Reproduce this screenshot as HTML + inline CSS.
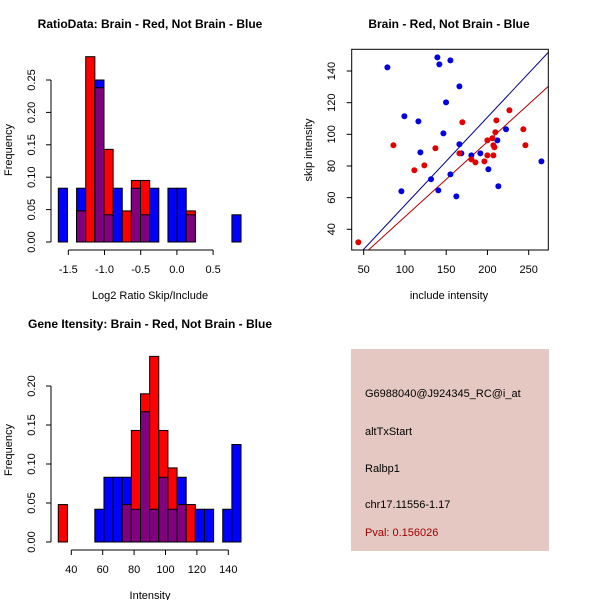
<!DOCTYPE html>
<html><head><meta charset="utf-8"><style>
body{margin:0;background:#fff}
svg{display:block;font-family:"Liberation Sans",sans-serif}
.t{font-weight:bold;font-size:12px}
.k{font-size:11px}
</style></head><body>
<svg id="s" width="600" height="600" viewBox="0 0 600 600">
<rect x="351" y="349" width="198" height="202" fill="#e4c8c1"/>
<g font-size="11">
<text x="365" y="397">G6988040@J924345_RC@i_at</text>
<text x="365" y="435">altTxStart</text>
<text x="365" y="472">Ralbp1</text>
<text x="365" y="508">chr17.11556-1.17</text>
<text x="365" y="536" fill="#a00000">Pval: 0.156026</text>
</g>
</svg>
<script>
// ---- Histogram 1 data ----
const h1Start=-1.638, h1Width=0.1262;
const h1BinIdx=[0,2,3,4,5,6,7,8,9,10,12,13,14,19];
const h1Red=[0,0.048,0.286,0.238,0.143,0,0.048,0.095,0.095,0,0,0,0.048,0];
const h1Blue=[0.083,0.083,0,0.25,0.042,0.083,0,0.083,0.042,0.083,0.083,0.083,0.042,0.042];
const h1XTicks=[-1.5,-1.0,-0.5,0.0,0.5];
const h1XLabels=["-1.5","-1.0","-0.5","0.0","0.5"];
const h1YTicks=[0,0.05,0.10,0.15,0.20,0.25];
const h1YLabels=["0.00","0.05","0.10","0.15","0.20","0.25"];
// ---- Histogram 2 data ----
const h2Start=31.7, h2Width=5.82;
const h2BinIdx=[0,4,5,6,7,8,9,10,11,12,13,14,15,16,18,19];
const h2Red=[0.048,0,0,0,0.048,0.143,0.19,0.238,0.143,0.095,0.048,0.048,0,0,0,0];
const h2Blue=[0,0.042,0.083,0.083,0.083,0.042,0.167,0.042,0.083,0.042,0.083,0,0.042,0.042,0.042,0.125];
const h2XTicks=[40,60,80,100,120,140];
const h2XLabels=["40","60","80","100","120","140"];
const h2YTicks=[0,0.05,0.10,0.15,0.20];
const h2YLabels=["0.00","0.05","0.10","0.15","0.20"];
// ---- Scatter data ----
const blueX=[78.7,139.3,141.7,155.1,166.0,149.8,99.3,116.3,146.6,166.0,118.7,168.4,180.5,191.4,212.0,222.5,131.6,95.7,140.5,155.1,162.3,201.1,213.2,265.4];
const blueY=[142.3,148.6,144.2,146.7,130.3,120.2,111.4,108.2,100.6,93.7,88.6,88.0,86.7,88.0,96.2,103.2,71.6,64.0,64.6,74.7,60.8,77.9,67.2,82.9];
const redX=[43.5,86.0,111.4,123.5,136.9,169.6,166.0,180.5,185.4,196.3,199.9,199.9,206.0,207.2,207.2,208.4,209.6,210.8,226.6,243.5,246.0];
const redY=[31.8,93.1,77.3,80.4,91.2,107.6,88.0,84.2,82.3,82.9,96.2,86.7,97.5,93.1,86.7,91.8,101.3,108.8,115.2,103.2,93.1];
const blueLine=[-0.4,0.556]; // intercept, slope
const redLine=[0.5,0.474];
const scXTicks=[50,100,150,200,250];
const scYTicks=[40,60,80,100,120,140];

const NS="http://www.w3.org/2000/svg";
const svg=document.getElementById('s');
function mk(tag,attrs,parent){const e=document.createElementNS(NS,tag);for(const k in attrs)e.setAttribute(k,attrs[k]);(parent||svg).appendChild(e);return e;}
function txt(x,y,s,cls,rot,parent){const e=mk('text',{x:x,y:y,'text-anchor':'middle',class:cls},parent);if(rot)e.setAttribute('transform','rotate(-90 '+x+' '+y+')');e.textContent=s;return e;}

function hist(cfg){
  const g=mk('g',{});
  
  
  const X=v=>cfg.x0+(v-cfg.xv0)*cfg.xs;
  const Y=v=>cfg.y0-v*cfg.ys;
  cfg.idx.forEach((b,i)=>{
    const l=X(cfg.start+b*cfg.w), r=X(cfg.start+(b+1)*cfg.w);
    const rv=cfg.red[i], bv=cfg.blue[i], mn=Math.min(rv,bv);
    const draw=(v,c,n)=>{if(v<=0)return;const e=mk('rect',{x:l,y:Y(v),width:r-l,height:Y(0)-Y(v),fill:c,stroke:'#000','stroke-width':1},g);
      
      };
    draw(bv,'#0000ff','bar-blue-'+b);
    draw(rv,'#ff0000','bar-red-'+b);
    draw(mn,'#800080','bar-overlap-'+b);
  });
  const ax=mk('g',{stroke:'#000','stroke-width':1,fill:'none'},g);
  
  
  const xa=cfg.y0+8;
  mk('line',{x1:X(cfg.xt[0]),x2:X(cfg.xt[cfg.xt.length-1]),y1:xa,y2:xa},ax);
  cfg.xt.forEach((t,i)=>{mk('line',{x1:X(t),x2:X(t),y1:xa,y2:xa+5},ax);
    const e=txt(X(t),xa+23,cfg.xl[i],'k',false,g);
    
    });
  const ya=51;
  mk('line',{x1:ya,x2:ya,y1:Y(cfg.yt[0]),y2:Y(cfg.yt[cfg.yt.length-1])},ax);
  cfg.yt.forEach((t,i)=>{mk('line',{x1:ya,x2:ya-5,y1:Y(t),y2:Y(t)},ax);
    const e=txt(35,Y(t),cfg.yl[i],'k',true,g);
    
    });
  let e=txt(150,cfg.top+28,cfg.title,'t',false,g);
  
  
  e=txt(150,cfg.top+299,cfg.xlab,'k',false,g);
  
  
  e=txt(12,cfg.top+150,'Frequency','k',true,g);
  
  
}
hist({name:'ratio-histogram',top:0,x0:68.3,xv0:-1.5,xs:72.4,y0:242,ys:648,start:h1Start,w:h1Width,idx:h1BinIdx,red:h1Red,blue:h1Blue,xt:h1XTicks,xl:h1XLabels,yt:h1YTicks,yl:h1YLabels,title:'RatioData: Brain - Red, Not Brain - Blue',xlab:'Log2 Ratio Skip/Include'});
hist({name:'intensity-histogram',top:300,x0:71.3,xv0:40,xs:1.57,y0:542,ys:780,start:h2Start,w:h2Width,idx:h2BinIdx,red:h2Red,blue:h2Blue,xt:h2XTicks,xl:h2XLabels,yt:h2YTicks,yl:h2YLabels,title:'Gene Itensity: Brain - Red, Not Brain - Blue',xlab:'Intensity'});

// Scatter
(function(){
  const L=351.7,R=548.3,T=49.3,B=250;
  const X=v=>363.7+(v-50)*0.825;
  const Y=v=>229.3-(v-40)*1.583;
  const g=mk('g',{});
  
  
  mk('defs',{},g).innerHTML='<clipPath id="cp"><rect x="'+L+'" y="'+T+'" width="'+(R-L)+'" height="'+(B-T)+'"/></clipPath>';
  const line=(p,c,n)=>{const x1=30,x2=280;const e=mk('line',{x1:X(x1),y1:Y(p[0]+p[1]*x1),x2:X(x2),y2:Y(p[0]+p[1]*x2),stroke:c,'stroke-width':1,'clip-path':'url(#cp)'},g);
    
    };
  line(blueLine,'#000080','blue-fit-line');
  line(redLine,'#b00000','red-fit-line');
  blueX.forEach((v,i)=>{const e=mk('circle',{cx:X(v),cy:Y(blueY[i]),r:3,fill:'#0000e0'},g);
    
    });
  redX.forEach((v,i)=>{const e=mk('circle',{cx:X(v),cy:Y(redY[i]),r:3,fill:'#e00000'},g);
    
    });
  mk('rect',{x:L,y:T,width:R-L,height:B-T,fill:'none',stroke:'#000'},g);
  scXTicks.forEach(t=>{mk('line',{x1:X(t),x2:X(t),y1:B,y2:B+5,stroke:'#000'},g);
    const e=txt(X(t),273,String(t),'k',false,g);
    
    });
  scYTicks.forEach(t=>{mk('line',{x1:L,x2:L-5,y1:Y(t),y2:Y(t),stroke:'#000'},g);
    const e=txt(335,Y(t),String(t),'k',true,g);
    
    });
  let e=txt(449,28,'Brain - Red, Not Brain - Blue','t',false,g);
  
  
  e=txt(449,299,'include intensity','k',false,g);
  
  
  e=txt(312,150,'skip intensity','k',true,g);
  
  
})();
</script>
</body></html>
